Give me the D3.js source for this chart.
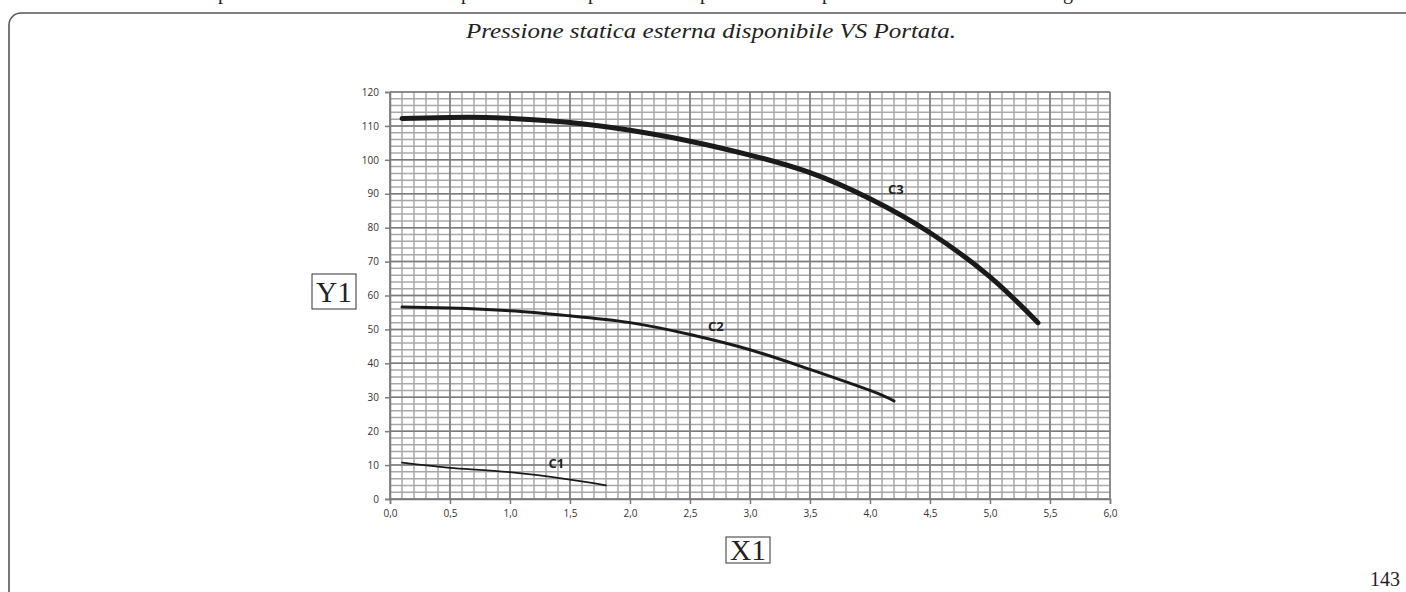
<!DOCTYPE html>
<html>
<head>
<meta charset="utf-8">
<script src="https://cdn.jsdelivr.net/npm/d3@7"></script>
<style>
  body { margin: 0; background: #fff; }
  svg { display: block; }
</style>
</head>
<body>
<figure style="margin:0"></figure>
<script>
// curve data: [portata, pressione]
const c1 = [[0.1, 10.7], [0.5, 9.2], [1.0, 7.9], [1.5, 5.7], [1.8, 4.0]];
const c2 = [[0.1, 56.6], [0.5, 56.3], [1.0, 55.5], [1.5, 54.0], [2.0, 52.0], [2.5, 48.5], [3.0, 44.0], [3.5, 38.2], [4.0, 32.0], [4.2, 28.9]];
const c3 = [[0.1, 112.2], [0.5, 112.5], [0.8, 112.5], [1.0, 112.2], [1.5, 111.0], [2.0, 108.7], [2.5, 105.5], [3.0, 101.4], [3.5, 96.2], [4.0, 88.5], [4.5, 78.5], [5.0, 65.5], [5.4, 52.0]];
const curveNames = ['C1', 'C2', 'C3'];
const labelAt = [[1.32, 9.1], [2.65, 49.5], [4.15, 89.8]];
const xTicks = d3.range(0, 6.01, 0.5);
const yTicks = d3.range(0, 121, 10);
const title = 'Pressione statica esterna disponibile VS Portata.';
const pageNumber = '143';

(() => {
  const totalWidth = 1406;
  const totalHeight = 592;
  const plot = {left: 390, right: 1110, top: 92, bottom: 499};

  const svg = d3.select('figure').append('svg')
    .attr('width', totalWidth)
    .attr('height', totalHeight);

  // cropped line of text above the frame: only the descenders show
  const cut = [[218, 'p'], [461, 'p'], [588, 'p'], [700, 'p'], [822, 'p'], [1063, 'g']];
  svg.selectAll('text.cut').data(cut).enter().append('text')
    .attr('class', 'cut')
    .attr('x', d => d[0]).attr('y', -1)
    .attr('font-family', 'Liberation Serif, serif').attr('font-size', 20)
    .attr('fill', '#222')
    .text(d => d[1]);

  // rounded page frame
  svg.append('rect')
    .attr('x', 9).attr('y', 13)
    .attr('width', 1430).attr('height', 620)
    .attr('rx', 12).attr('ry', 12)
    .attr('fill', 'none').attr('stroke', '#555').attr('stroke-width', 1.6);

  svg.append('text')
    .attr('x', 466).attr('y', 38)
    .attr('textLength', 490).attr('lengthAdjust', 'spacingAndGlyphs')
    .attr('font-family', 'Liberation Serif, serif').attr('font-style', 'italic')
    .attr('font-size', 21).attr('fill', '#222')
    .text(title);

  svg.append('text')
    .attr('x', 1400).attr('y', 586)
    .attr('text-anchor', 'end')
    .attr('font-family', 'Liberation Serif, serif').attr('font-size', 20)
    .attr('fill', '#222')
    .text(pageNumber);

  const x = d3.scaleLinear().domain([0, 6]).range([plot.left, plot.right]);
  const y = d3.scaleLinear().domain([0, 120]).range([plot.bottom, plot.top]);

  const g = svg.append('g');

  // minor grid
  g.selectAll('line.vmin').data(d3.range(0, 61).map(i => i / 10)).enter().append('line')
    .attr('x1', d => x(d)).attr('x2', d => x(d))
    .attr('y1', y(0)).attr('y2', y(120))
    .attr('stroke', '#a8a8a8').attr('stroke-width', 1.5);
  g.selectAll('line.hmin').data(d3.range(0, 121, 2)).enter().append('line')
    .attr('y1', d => y(d)).attr('y2', d => y(d))
    .attr('x1', x(0)).attr('x2', x(6))
    .attr('stroke', '#a8a8a8').attr('stroke-width', 1.5);
  // major grid
  g.selectAll('line.vmaj').data(xTicks).enter().append('line')
    .attr('x1', d => x(d)).attr('x2', d => x(d))
    .attr('y1', y(0)).attr('y2', y(120))
    .attr('stroke', '#7c7c7c').attr('stroke-width', 1.5);
  g.selectAll('line.hmaj').data(yTicks).enter().append('line')
    .attr('y1', d => y(d)).attr('y2', d => y(d))
    .attr('x1', x(0)).attr('x2', x(6))
    .attr('stroke', '#7c7c7c').attr('stroke-width', 1.5);

  const fmt = d3.format('.1f');
  const xAxis = d3.axisBottom(x).tickValues(xTicks).tickSize(5).tickPadding(6)
    .tickFormat(d => fmt(d).replace('.', ','));
  const yAxis = d3.axisLeft(y).tickValues(yTicks).tickSize(5).tickPadding(6);

  const xGroup = g.append('g')
    .attr('transform', `translate(0, ${plot.bottom})`)
    .call(xAxis);
  const yGroup = g.append('g')
    .attr('transform', `translate(${plot.left}, 0)`)
    .call(yAxis);
  [xGroup, yGroup].forEach(a => {
    a.select('.domain').attr('stroke', '#7c7c7c').attr('stroke-width', 1.5);
    a.selectAll('.tick line').attr('stroke', '#7c7c7c').attr('stroke-width', 1.5);
    a.selectAll('.tick text')
      .attr('font-family', 'Open Sans').attr('font-size', 10).attr('fill', '#333');
  });

  const line = d3.line()
    .curve(d3.curveNatural)
    .x(d => x(d[0]))
    .y(d => y(d[1]));

  const series = [c1, c2, c3];
  const widths = [1.8, 3, 5];
  series.forEach((s, i) => {
    g.append('path')
      .datum(s)
      .attr('d', line)
      .attr('fill', 'none')
      .attr('stroke', '#1a1a1a')
      .attr('stroke-width', widths[i])
      .attr('stroke-linecap', 'round');
    g.append('text')
      .attr('x', x(labelAt[i][0])).attr('y', y(labelAt[i][1]))
      .attr('font-family', 'Open Sans').attr('font-weight', 'bold')
      .attr('font-size', 13).attr('fill', '#222')
      .text(curveNames[i]);
  });

  // axis name boxes
  const boxes = [
    {name: 'Y1', x: 312, y: 274, w: 44, h: 35},
    {name: 'X1', x: 726, y: 537, w: 44, h: 26}
  ];
  boxes.forEach(b => {
    svg.append('rect')
      .attr('x', b.x).attr('y', b.y).attr('width', b.w).attr('height', b.h)
      .attr('fill', 'none').attr('stroke', '#333').attr('stroke-width', 1);
    svg.append('text')
      .attr('x', b.x + b.w / 2).attr('y', b.y + b.h / 2 + 10)
      .attr('text-anchor', 'middle')
      .attr('textLength', 36).attr('lengthAdjust', 'spacingAndGlyphs')
      .attr('font-family', 'Liberation Serif, serif').attr('font-size', 29)
      .attr('fill', '#222')
      .text(b.name);
  });
})();
</script>
</body>
</html>
